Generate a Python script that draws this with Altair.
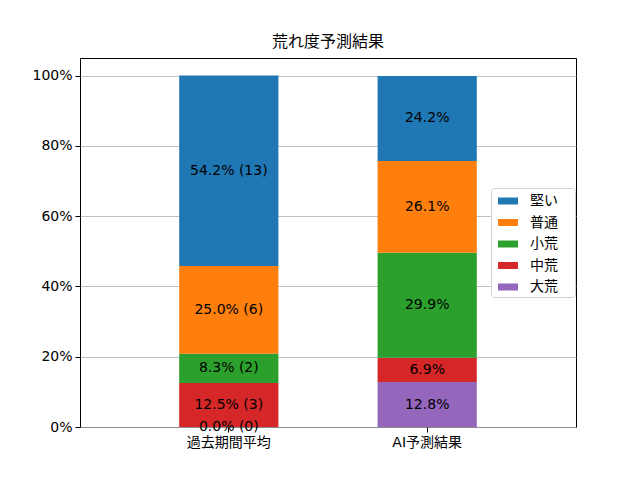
import altair as alt
import pandas as pd

categories = ["過去期間平均", "AI予測結果"]
series = ["大荒", "中荒", "小荒", "普通", "堅い"]  # bottom to top
legend_order = ["堅い", "普通", "小荒", "中荒", "大荒"]
colors = {"堅い": "#1f77b4", "普通": "#ff7f0e", "小荒": "#2ca02c", "中荒": "#d62728", "大荒": "#9467bd"}
past_counts = [0, 3, 2, 6, 13]
ai_pct = [12.8, 6.9, 29.9, 26.1, 24.2]

rows = []
total = sum(past_counts)
cum = 0.0
for i, (s, c) in enumerate(zip(series, past_counts)):
    v = c / total
    rows.append(dict(cat=categories[0], s=s, order=i, y0=cum, y1=cum + v, mid=cum + v / 2,
                     label=f"{v*100:.1f}% ({c})"))
    cum += v
cum = 0.0
for i, (s, p) in enumerate(zip(series, ai_pct)):
    v = p / 100
    rows.append(dict(cat=categories[1], s=s, order=i, y0=cum, y1=cum + v, mid=cum + v / 2,
                     label=f"{p:.1f}%"))
    cum += v
df = pd.DataFrame(rows)

FONT = "DejaVu Sans, Noto Sans CJK JP"

xenc = alt.X("cat:N", sort=categories, title=None,
             scale=alt.Scale(paddingInner=0.5, paddingOuter=0.5),
             axis=alt.Axis(labelAngle=0, labelFontSize=14, labelColor="black",
                           tickColor="black", tickSize=5, domain=False, grid=False, labelPadding=3))
yscale = alt.Scale(domain=[0, 1.05], nice=False, zero=True)

bars = alt.Chart(df).mark_bar(strokeWidth=0).encode(
    x=xenc,
    y=alt.Y("y0:Q", scale=yscale, title=None,
            axis=alt.Axis(format=".0%", values=[0, 0.2, 0.4, 0.6, 0.8, 1.0], labelFontSize=14,
                          labelColor="black", tickColor="black", tickSize=5, domain=False,
                          grid=True, gridColor="#b0b0b0", gridWidth=0.8, labelPadding=3)),
    y2="y1:Q",
    color=alt.Color("s:N", scale=alt.Scale(domain=legend_order, range=[colors[k] for k in legend_order]),
                    legend=alt.Legend(title=None, orient="none", legendX=411, legendY=130,
                                      symbolType="M-1,-0.35L1,-0.35L1,0.35L-1,0.35Z",
                                      symbolSize=400, symbolStrokeWidth=0, symbolOffset=4,
                                      labelFontSize=14, labelColor="black", rowPadding=4.5,
                                      padding=3, labelOffset=12,
                                      labelExpr="datum.label + '\u2009\u2800'",
                                      fillColor="white", strokeColor="#d0d0d0", cornerRadius=3)),
)

texts = alt.Chart(df).mark_text(fontSize=14, color="black", baseline="middle", font=FONT).encode(
    x=alt.X("cat:N", sort=categories),
    y=alt.Y("mid:Q", scale=yscale),
    text="label:N",
)

chart = (bars + texts).properties(
    width=496, height=369,
    title=alt.Title("荒れ度予測結果", fontSize=16, fontWeight="normal", font=FONT, color="black", offset=8),
    autosize=alt.AutoSizeParams(type="none"),
    padding={"left": 72, "top": 50, "right": 56, "bottom": 45},
).configure(font=FONT).configure_view(stroke="black", strokeWidth=1).configure_axis(
    labelFont=FONT
)

chart.save("out.html", embed_options={"renderer": "svg", "actions": False})
